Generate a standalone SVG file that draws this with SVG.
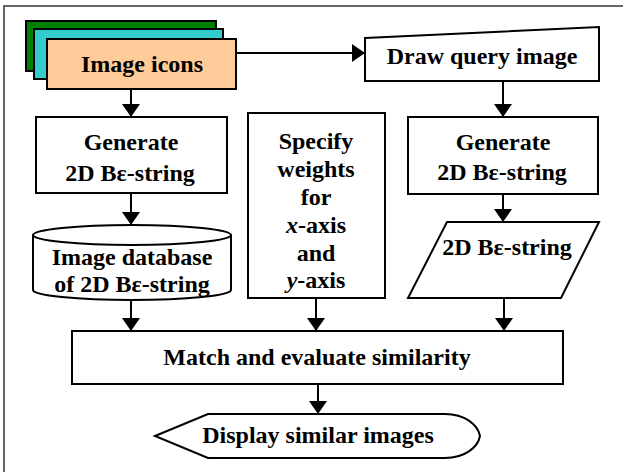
<svg xmlns="http://www.w3.org/2000/svg" width="623" height="472" viewBox="0 0 623 472">
<defs>
<style>
.s{fill:#fff;stroke:#000;stroke-width:2}
.t{font-family:"Liberation Serif","Times New Roman",serif;font-weight:bold;font-size:24px;fill:#000;text-anchor:middle}
.c{fill:none;stroke:#000;stroke-width:2;marker-end:url(#ah)}
</style>
<marker id="ah" viewBox="0 0 13 18" refX="13" refY="9" markerWidth="13" markerHeight="18" markerUnits="userSpaceOnUse" orient="auto">
<path d="M0,0 L13,9 L0,18 Z" fill="#000"/>
</marker>
</defs>
<rect x="0" y="0" width="623" height="472" fill="#fff"/>
<rect id="frame" x="4" y="6" width="640" height="490" fill="none" stroke="#333" stroke-width="1.5"/>

<g id="connectors">
<path class="c" d="M236,53 H365"/>
<path class="c" d="M131,89 V117"/>
<path class="c" d="M503,81 V117"/>
<path class="c" d="M131,193 V225"/>
<path class="c" d="M503,194 V222"/>
<path class="c" d="M131,300 V331"/>
<path class="c" d="M316,298 V331"/>
<path class="c" d="M504,298 V331"/>
<path class="c" d="M318,384 V414"/>
</g>

<g id="image-icons">
<rect x="26" y="21" width="190" height="50" fill="#008000" stroke="#000" stroke-width="2"/>
<rect x="34" y="29" width="189" height="50" fill="#33CCCC" stroke="#000" stroke-width="2"/>
<rect x="47" y="39" width="189" height="50" fill="#FFCC99" stroke="#000" stroke-width="2"/>
<text class="t" x="142" y="72">Image icons</text>
</g>

<g id="draw-query">
<polygon class="s" points="365,38 599,27 599,81 365,81"/>
<text class="t" x="482" y="64">Draw query image</text>
</g>

<g id="generate-left">
<rect class="s" x="36" y="117" width="191" height="76"/>
<text class="t" x="131" y="150">Generate</text>
<text class="t" x="130" y="181">2D Bε-string</text>
</g>

<g id="image-database">
<path class="s" d="M33,235 V290 A99,10 0 0 0 231,290 V235"/>
<ellipse class="s" cx="132" cy="235" rx="99" ry="10"/>
<text class="t" x="132" y="265">Image database</text>
<text class="t" x="132" y="292">of 2D Bε-string</text>
</g>

<g id="specify-weights">
<rect class="s" x="248" y="113" width="137" height="185"/>
<text class="t" x="316" y="149">Specify</text>
<text class="t" x="316" y="177">weights</text>
<text class="t" x="316" y="205">for</text>
<text class="t" x="316" y="233"><tspan font-style="italic">x</tspan>-axis</text>
<text class="t" x="316" y="261">and</text>
<text class="t" x="316" y="288"><tspan font-style="italic">y</tspan>-axis</text>
</g>

<g id="generate-right">
<rect class="s" x="408" y="117" width="190" height="77"/>
<text class="t" x="503" y="150">Generate</text>
<text class="t" x="502" y="180">2D Bε-string</text>
</g>

<g id="be-string">
<polygon class="s" points="447,222 599,222 561,298 408,298"/>
<text class="t" x="507" y="255">2D Bε-string</text>
</g>

<g id="match">
<rect class="s" x="72" y="331" width="491" height="53"/>
<text class="t" x="317" y="365">Match and evaluate similarity</text>
</g>

<g id="display">
<path class="s" d="M155,436 L208,414 L445,414 C465,414 478,425 480,436 C478,447 465,458 445,458 L208,458 Z"/>
<text class="t" x="318" y="443">Display similar images</text>
</g>
</svg>
